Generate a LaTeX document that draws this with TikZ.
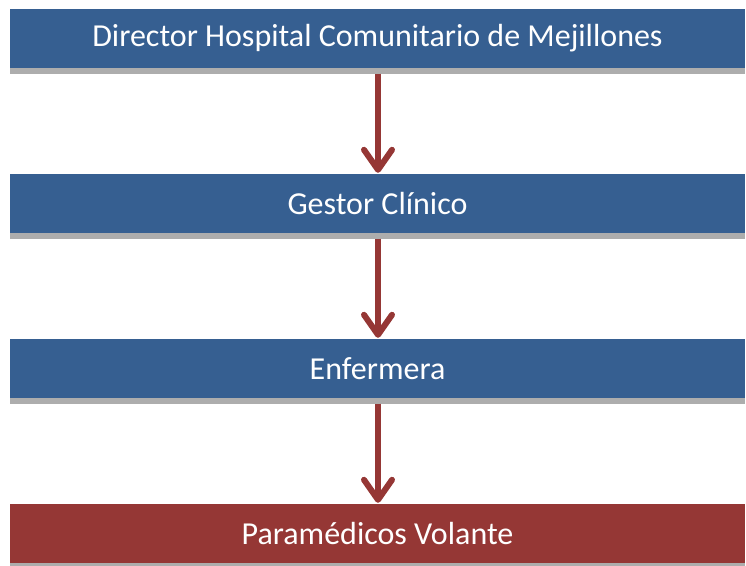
\documentclass[tikz,border=0pt]{standalone}
\usepackage{fontspec}
\setmainfont{Carlito}
\usetikzlibrary{arrows.meta}
\definecolor{boxblue}{HTML}{365F91}
\definecolor{boxred}{HTML}{953735}
\definecolor{arrred}{HTML}{953735}
\definecolor{shadowgray}{HTML}{ADADAD}
\begin{document}
\begin{tikzpicture}[x=1pt,y=1pt,
  orgbox/.style={minimum width=735pt,minimum height=59pt,inner sep=0pt,text=white,font=\fontsize{32}{36}\selectfont},
  flowarrow/.style={draw=arrred,line width=6pt,-{Straight Barb[round,length=20pt,width=28pt]}}]
\useasboundingbox (0,0) rectangle (746,565);
\node[orgbox,fill=boxblue] (b1) at (377.5,526.5) {Director Hospital Comunitario de Mejillones};
\node[orgbox,fill=boxblue] (b2) at (377.5,361.5) {Gestor Clínico};
\node[orgbox,fill=boxblue] (b3) at (377.5,196.5) {Enfermera};
\node[orgbox,fill=boxred] (b4) at (377.5,31.5) {Paramédicos Volante};
\foreach \b in {b1,b2,b3,b4}{
  \fill[shadowgray] (\b.south west) rectangle ([yshift=-5.5pt]\b.south east);
}
\draw[flowarrow] ([xshift=0.5pt,yshift=-5.5pt]b1.south) -- ([xshift=0.5pt,yshift=1pt]b2.north);
\draw[flowarrow] ([xshift=0.5pt,yshift=-5.5pt]b2.south) -- ([xshift=0.5pt,yshift=1pt]b3.north);
\draw[flowarrow] ([xshift=0.5pt,yshift=-5.5pt]b3.south) -- ([xshift=0.5pt,yshift=1pt]b4.north);
\end{tikzpicture}
\end{document}
